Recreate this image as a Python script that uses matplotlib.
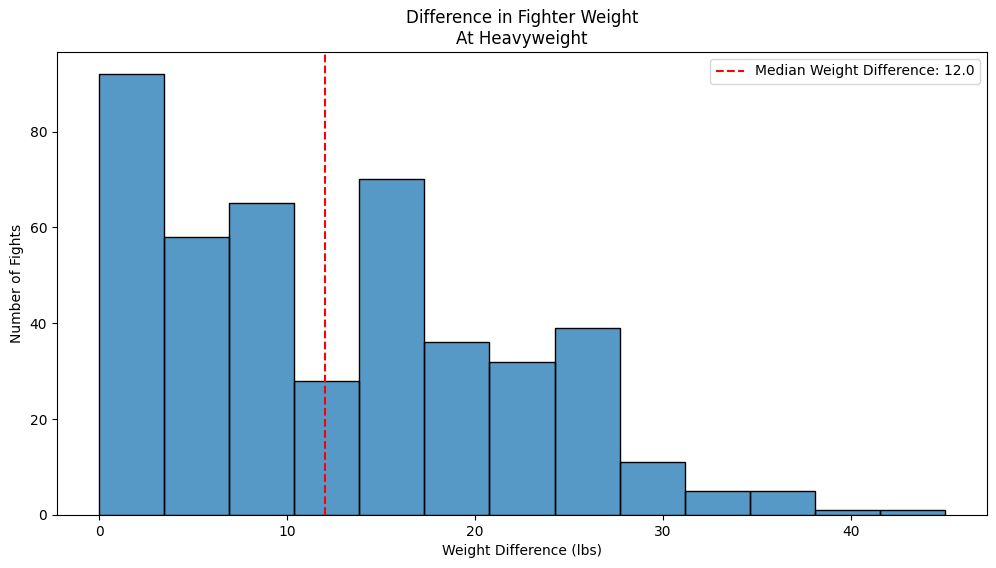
import numpy as np
import matplotlib
matplotlib.use("Agg")
import matplotlib.pyplot as plt

# Data
bin_min = 0.0
bin_max = 45.0
counts = [92, 58, 65, 28, 70, 36, 32, 39, 11, 5, 5, 1, 1]
median_value = 12.0

title = "Difference in Fighter Weight\nAt Heavyweight"
xlabel = "Weight Difference (lbs)"
ylabel = "Number of Fights"

fig = plt.figure(figsize=(9.96, 5.68), dpi=100)
ax = fig.add_axes([57/996, 1 - 515/568, (987-57)/996, (515-52)/568])

edges = np.linspace(bin_min, bin_max, len(counts) + 1)
widths = np.diff(edges)
ax.bar(edges[:-1], counts, width=widths, align="edge",
       color="#1f77b4", alpha=0.75, edgecolor="none")
ax.bar(edges[:-1], counts, width=widths, align="edge",
       facecolor="none", edgecolor="black", linewidth=1)

ax.axvline(median_value, color="red", linestyle="--",
           label=f"Median Weight Difference: {median_value}")

ax.set_xlim(-2.25, 47.25)
ax.set_ylim(0, max(counts) * 1.05)
ax.set_title(title, fontsize=12)
ax.set_xlabel(xlabel)
ax.set_ylabel(ylabel)
ax.legend(loc="upper right")

fig.savefig("out.png", dpi=100)
